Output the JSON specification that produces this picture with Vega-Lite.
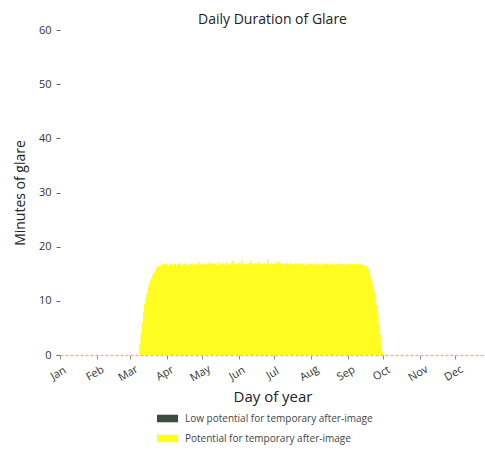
{
  "$schema": "https://vega.github.io/schema/vega-lite/v6.json",
  "width": 425,
  "height": 325,
  "autosize": {"type": "none"},
  "padding": {"left": 60, "top": 30, "right": 0, "bottom": 95},
  "title": {"text": "Daily Duration of Glare", "font": "Open Sans", "fontSize": 14, "fontWeight": "normal", "color": "#222222", "offset": -3},
  "config": {"view": {"stroke": null}, "font": "Open Sans"},
  "data": {"values": [
    {"d": "2023/03/08", "m": 0},
    {"d": "2023/03/09", "m": 2}, {"d": "2023/03/10", "m": 4}, {"d": "2023/03/11", "m": 6}, {"d": "2023/03/12", "m": 8}, {"d": "2023/03/13", "m": 9.5},
    {"d": "2023/03/14", "m": 10.5}, {"d": "2023/03/15", "m": 11.5}, {"d": "2023/03/16", "m": 12.5}, {"d": "2023/03/17", "m": 13.2}, {"d": "2023/03/18", "m": 13.8},
    {"d": "2023/03/19", "m": 14.3}, {"d": "2023/03/20", "m": 14.8}, {"d": "2023/03/21", "m": 15.2}, {"d": "2023/03/22", "m": 15.6}, {"d": "2023/03/23", "m": 16},
    {"d": "2023/03/24", "m": 16.2}, {"d": "2023/03/25", "m": 16.4}, {"d": "2023/03/26", "m": 16.5}, {"d": "2023/03/27", "m": 16.6}, {"d": "2023/03/28", "m": 16.8},
    {"d": "2023/03/29", "m": 16.5}, {"d": "2023/03/30", "m": 16.9}, {"d": "2023/03/31", "m": 16.7},
    {"d": "2023/04/01", "m": 16.8}, {"d": "2023/04/02", "m": 16.5}, {"d": "2023/04/03", "m": 16.9}, {"d": "2023/04/04", "m": 16.7}, {"d": "2023/04/05", "m": 17.0},
    {"d": "2023/04/06", "m": 16.6}, {"d": "2023/04/07", "m": 16.8}, {"d": "2023/04/08", "m": 16.9}, {"d": "2023/04/09", "m": 16.5}, {"d": "2023/04/10", "m": 16.8},
    {"d": "2023/04/11", "m": 17.1}, {"d": "2023/04/12", "m": 16.7}, {"d": "2023/04/13", "m": 16.9}, {"d": "2023/04/14", "m": 16.6}, {"d": "2023/04/15", "m": 16.8},
    {"d": "2023/04/16", "m": 17.0}, {"d": "2023/04/17", "m": 16.7}, {"d": "2023/04/18", "m": 16.9}, {"d": "2023/04/19", "m": 16.5}, {"d": "2023/04/20", "m": 16.8},
    {"d": "2023/04/21", "m": 16.9}, {"d": "2023/04/22", "m": 16.7}, {"d": "2023/04/23", "m": 17.0}, {"d": "2023/04/24", "m": 16.6}, {"d": "2023/04/25", "m": 16.8},
    {"d": "2023/04/26", "m": 16.9}, {"d": "2023/04/27", "m": 16.7}, {"d": "2023/04/28", "m": 17.2}, {"d": "2023/04/29", "m": 16.8}, {"d": "2023/04/30", "m": 16.6},
    {"d": "2023/05/01", "m": 16.9}, {"d": "2023/05/02", "m": 16.7}, {"d": "2023/05/03", "m": 17.0}, {"d": "2023/05/04", "m": 16.8}, {"d": "2023/05/05", "m": 16.6},
    {"d": "2023/05/06", "m": 16.9}, {"d": "2023/05/07", "m": 17.1}, {"d": "2023/05/08", "m": 16.8}, {"d": "2023/05/09", "m": 16.7}, {"d": "2023/05/10", "m": 17.0},
    {"d": "2023/05/11", "m": 16.8}, {"d": "2023/05/12", "m": 16.9}, {"d": "2023/05/13", "m": 16.6}, {"d": "2023/05/14", "m": 17.3}, {"d": "2023/05/15", "m": 16.8},
    {"d": "2023/05/16", "m": 16.7}, {"d": "2023/05/17", "m": 17.0}, {"d": "2023/05/18", "m": 16.9}, {"d": "2023/05/19", "m": 16.8}, {"d": "2023/05/20", "m": 16.6},
    {"d": "2023/05/21", "m": 17.1}, {"d": "2023/05/22", "m": 16.9}, {"d": "2023/05/23", "m": 16.7}, {"d": "2023/05/24", "m": 17.0}, {"d": "2023/05/25", "m": 16.8},
    {"d": "2023/05/26", "m": 17.4}, {"d": "2023/05/27", "m": 16.9}, {"d": "2023/05/28", "m": 16.7}, {"d": "2023/05/29", "m": 17.0}, {"d": "2023/05/30", "m": 16.8},
    {"d": "2023/05/31", "m": 16.9},
    {"d": "2023/06/01", "m": 17.0}, {"d": "2023/06/02", "m": 16.8}, {"d": "2023/06/03", "m": 17.6}, {"d": "2023/06/04", "m": 16.9}, {"d": "2023/06/05", "m": 16.7},
    {"d": "2023/06/06", "m": 17.1}, {"d": "2023/06/07", "m": 16.8}, {"d": "2023/06/08", "m": 16.9}, {"d": "2023/06/09", "m": 17.0}, {"d": "2023/06/10", "m": 16.7},
    {"d": "2023/06/11", "m": 17.5}, {"d": "2023/06/12", "m": 16.9}, {"d": "2023/06/13", "m": 16.8}, {"d": "2023/06/14", "m": 17.0}, {"d": "2023/06/15", "m": 16.7},
    {"d": "2023/06/16", "m": 16.9}, {"d": "2023/06/17", "m": 17.2}, {"d": "2023/06/18", "m": 16.8}, {"d": "2023/06/19", "m": 16.9}, {"d": "2023/06/20", "m": 17.0},
    {"d": "2023/06/21", "m": 16.7}, {"d": "2023/06/22", "m": 16.9}, {"d": "2023/06/23", "m": 17.1}, {"d": "2023/06/24", "m": 16.8}, {"d": "2023/06/25", "m": 17.8},
    {"d": "2023/06/26", "m": 16.9}, {"d": "2023/06/27", "m": 16.7}, {"d": "2023/06/28", "m": 17.0}, {"d": "2023/06/29", "m": 16.8}, {"d": "2023/06/30", "m": 16.9},
    {"d": "2023/07/01", "m": 17.0}, {"d": "2023/07/02", "m": 16.8}, {"d": "2023/07/03", "m": 16.9}, {"d": "2023/07/04", "m": 17.3}, {"d": "2023/07/05", "m": 16.7},
    {"d": "2023/07/06", "m": 16.9}, {"d": "2023/07/07", "m": 17.0}, {"d": "2023/07/08", "m": 16.8}, {"d": "2023/07/09", "m": 16.6}, {"d": "2023/07/10", "m": 16.9},
    {"d": "2023/07/11", "m": 17.1}, {"d": "2023/07/12", "m": 16.8}, {"d": "2023/07/13", "m": 16.7}, {"d": "2023/07/14", "m": 17.0}, {"d": "2023/07/15", "m": 16.9},
    {"d": "2023/07/16", "m": 16.8}, {"d": "2023/07/17", "m": 16.6}, {"d": "2023/07/18", "m": 16.9}, {"d": "2023/07/19", "m": 17.0}, {"d": "2023/07/20", "m": 16.7},
    {"d": "2023/07/21", "m": 16.8}, {"d": "2023/07/22", "m": 16.9}, {"d": "2023/07/23", "m": 16.7}, {"d": "2023/07/24", "m": 17.0}, {"d": "2023/07/25", "m": 16.8},
    {"d": "2023/07/26", "m": 16.6}, {"d": "2023/07/27", "m": 16.9}, {"d": "2023/07/28", "m": 16.8}, {"d": "2023/07/29", "m": 16.7}, {"d": "2023/07/30", "m": 17.0},
    {"d": "2023/07/31", "m": 16.8},
    {"d": "2023/08/01", "m": 16.9}, {"d": "2023/08/02", "m": 16.7}, {"d": "2023/08/03", "m": 16.8}, {"d": "2023/08/04", "m": 17.0}, {"d": "2023/08/05", "m": 16.6},
    {"d": "2023/08/06", "m": 16.9}, {"d": "2023/08/07", "m": 16.8}, {"d": "2023/08/08", "m": 16.7}, {"d": "2023/08/09", "m": 16.9}, {"d": "2023/08/10", "m": 16.6},
    {"d": "2023/08/11", "m": 16.8}, {"d": "2023/08/12", "m": 17.0}, {"d": "2023/08/13", "m": 16.7}, {"d": "2023/08/14", "m": 16.8}, {"d": "2023/08/15", "m": 16.9},
    {"d": "2023/08/16", "m": 16.6}, {"d": "2023/08/17", "m": 16.8}, {"d": "2023/08/18", "m": 16.7}, {"d": "2023/08/19", "m": 16.9}, {"d": "2023/08/20", "m": 16.8},
    {"d": "2023/08/21", "m": 16.6}, {"d": "2023/08/22", "m": 16.8}, {"d": "2023/08/23", "m": 16.9}, {"d": "2023/08/24", "m": 16.7}, {"d": "2023/08/25", "m": 16.8},
    {"d": "2023/08/26", "m": 17.0}, {"d": "2023/08/27", "m": 16.7}, {"d": "2023/08/28", "m": 16.8}, {"d": "2023/08/29", "m": 16.6}, {"d": "2023/08/30", "m": 16.9},
    {"d": "2023/08/31", "m": 16.8},
    {"d": "2023/09/01", "m": 16.7}, {"d": "2023/09/02", "m": 16.9}, {"d": "2023/09/03", "m": 16.8}, {"d": "2023/09/04", "m": 16.6}, {"d": "2023/09/05", "m": 16.8},
    {"d": "2023/09/06", "m": 16.9}, {"d": "2023/09/07", "m": 16.7}, {"d": "2023/09/08", "m": 16.8}, {"d": "2023/09/09", "m": 16.6}, {"d": "2023/09/10", "m": 16.9},
    {"d": "2023/09/11", "m": 16.7}, {"d": "2023/09/12", "m": 16.8}, {"d": "2023/09/13", "m": 16.6}, {"d": "2023/09/14", "m": 16.7}, {"d": "2023/09/15", "m": 16.5},
    {"d": "2023/09/16", "m": 16.4}, {"d": "2023/09/17", "m": 16.3}, {"d": "2023/09/18", "m": 15.8}, {"d": "2023/09/19", "m": 15.2}, {"d": "2023/09/20", "m": 14.5},
    {"d": "2023/09/21", "m": 13.7}, {"d": "2023/09/22", "m": 12.8}, {"d": "2023/09/23", "m": 11.8}, {"d": "2023/09/24", "m": 10.6}, {"d": "2023/09/25", "m": 9.2},
    {"d": "2023/09/26", "m": 7.6}, {"d": "2023/09/27", "m": 5.8}, {"d": "2023/09/28", "m": 3.8}, {"d": "2023/09/29", "m": 1.8}, {"d": "2023/09/30", "m": 0.5},
    {"d": "2023/10/01", "m": 0}
  ]},
  "mark": {"type": "area", "interpolate": "step-after", "opacity": 1},
  "encoding": {
    "x": {
      "field": "d", "timeUnit": "yearmonthdate", "type": "temporal",
      "scale": {"domain": [{"year": 2023, "month": 1, "date": 1}, {"year": 2023, "month": 12, "date": 26}]},
      "axis": {
        "title": "Day of year", "titleFontSize": 15, "titleFontWeight": "normal", "titleColor": "#222222", "titlePadding": 7,
        "values": [
          {"year": 2023, "month": 1, "date": 1}, {"year": 2023, "month": 2, "date": 1}, {"year": 2023, "month": 3, "date": 1},
          {"year": 2023, "month": 4, "date": 1}, {"year": 2023, "month": 5, "date": 1}, {"year": 2023, "month": 6, "date": 1},
          {"year": 2023, "month": 7, "date": 1}, {"year": 2023, "month": 8, "date": 1}, {"year": 2023, "month": 9, "date": 1},
          {"year": 2023, "month": 10, "date": 1}, {"year": 2023, "month": 11, "date": 1}, {"year": 2023, "month": 12, "date": 1}
        ],
        "format": "%b", "labelAngle": -30, "labelAlign": "center", "labelBaseline": "top", "labelPadding": 9, "labelOffset": -5,
        "labelFontSize": 11, "labelColor": "#333333", "labelFlush": false, "labelOverlap": false,
        "grid": false, "tickSize": 4, "tickColor": "#888888",
        "domainColor": "#f0b0a4", "domainDash": [3, 2], "domainWidth": 1.5
      }
    },
    "y": {
      "field": "m", "type": "quantitative",
      "scale": {"domain": [0, 60]},
      "axis": {
        "title": "Minutes of glare", "titleFontSize": 14, "titleFontWeight": "normal", "titleColor": "#222222", "titlePadding": 11,
        "values": [0, 10, 20, 30, 40, 50, 60], "labelFontSize": 11, "labelColor": "#333333", "labelPadding": 5,
        "grid": false, "domain": false, "tickSize": 4, "tickColor": "#666666"
      }
    },
    "color": {
      "datum": "Potential for temporary after-image",
      "scale": {"domain": ["Low potential for temporary after-image", "Potential for temporary after-image"], "range": ["#3b4d43", "#fffc1f"]},
      "legend": {
        "title": null, "orient": "none", "legendX": 97, "legendY": 378,
        "symbolType": "M-1,-0.36H1V0.36H-1Z", "symbolSize": 441, "symbolStrokeWidth": 0, "symbolOpacity": 1,
        "labelFontSize": 10, "labelColor": "#444444", "labelLimit": 400, "rowPadding": 4, "labelOffset": 7
      }
    }
  }
}
